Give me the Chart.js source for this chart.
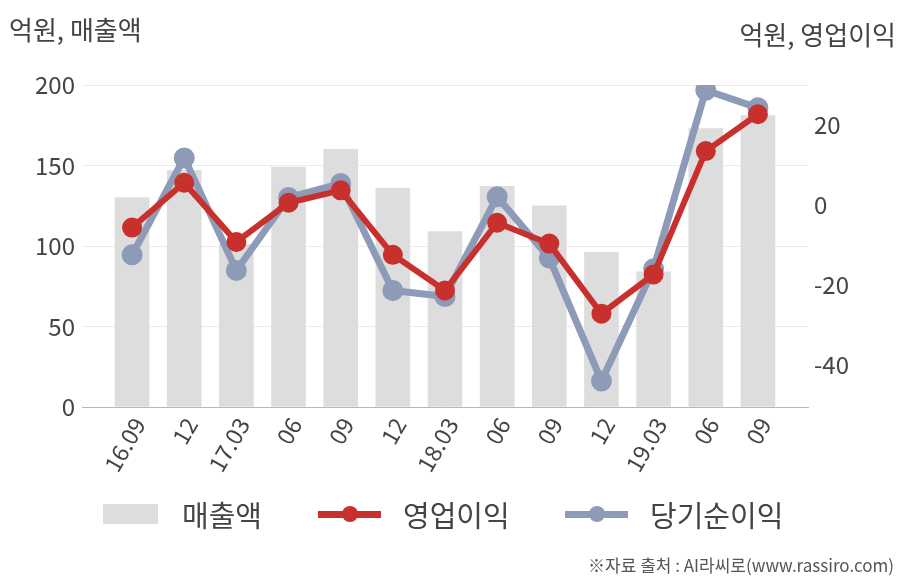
<!DOCTYPE html>
<html>
<head>
<meta charset="utf-8">
<script src="https://cdn.jsdelivr.net/npm/chart.js@4"></script>
<style>
  html, body { margin: 0; padding: 0; background: #fff; }
  #wrap { position: relative; width: 908px; height: 580px; font-family: "Noto Sans CJK KR", sans-serif; color: #444; }
  #chart { position: absolute; left: 0; top: 0; }
  .t { position: absolute; white-space: nowrap; line-height: 1; }
  .lg { position: absolute; top: 496px; height: 36px; display: flex; align-items: center; font-size: 29px; color: #444; }
</style>
</head>
<body>
<div id="wrap">
  <canvas id="chart" width="908" height="580"></canvas>
  <div class="t" style="left:9px; top:16px; font-size:26px;">억원, 매출액</div>
  <div class="t" style="right:12px; top:21px; font-size:26px;">억원, 영업이익</div>
  <div id="legend"></div>
  <div class="t" style="right:14px; top:556px; font-size:17px; color:#555;">※자료 출처 : AI라씨로(www.rassiro.com)</div>
</div>
<script>
const labels = ['16.09', '12', '17.03', '06', '09', '12', '18.03', '06', '09', '12', '19.03', '06', '09']
const sales = [130, 147, 101, 149, 160, 136, 109, 137, 125, 96, 84, 173, 181]
const opProfit = [-5.7, 5.5, -9.3, 0.5, 3.6, -12.5, -21.4, -4.5, -9.7, -27.2, -17.4, 13.4, 22.6]
const netProfit = [-12.5, 11.7, -16.4, 1.8, 5.3, -21.4, -22.9, 2.0, -13.3, -44.0, -16.0, 28.6, 24.2]
const leftTicks = [0, 50, 100, 150, 200]
const rightTicks = [-40, -20, 0, 20]

const GRAY = '#dddddd', RED = '#c7302c', BLUE = '#8e9bb8'
const pts = arr => arr.map((v, i) => ({ x: i, y: v }))

const ctx = document.getElementById('chart').getContext('2d')
const chart = new Chart(ctx, {
  data: {
    datasets: [
      { type: 'bar', label: '매출액', data: pts(sales), backgroundColor: GRAY, barThickness: 34, yAxisID: 'y', order: 3 },
      { type: 'line', label: '당기순이익', data: pts(netProfit), borderColor: BLUE, backgroundColor: BLUE,
        borderWidth: 7, pointRadius: 7, pointHoverRadius: 7, yAxisID: 'y1', order: 2 },
      { type: 'line', label: '영업이익', data: pts(opProfit), borderColor: RED, backgroundColor: RED,
        borderWidth: 6, pointRadius: 7, pointHoverRadius: 7, yAxisID: 'y1', order: 1 }
    ]
  },
  options: {
    responsive: false,
    animation: false,
    layout: { padding: { left: 0, right: 0, top: 85, bottom: 93 } },
    plugins: { legend: { display: false }, tooltip: { enabled: false } },
    scales: {
      x: {
        type: 'linear', min: -0.96, max: 12.96, offset: false,
        afterBuildTicks: s => { s.ticks = labels.map((_, i) => ({ value: i })) },
        afterFit: s => { s.height = 80 },
        grid: { display: false, drawTicks: false },
        border: { display: true, color: '#b8b8b8', width: 1 },
        ticks: {
          callback: v => labels[v], autoSkip: false, maxRotation: 60, minRotation: 60,
          padding: 6, labelOffset: 7, color: '#444', font: { family: 'Noto Sans CJK KR', size: 23 }
        }
      },
      y: {
        position: 'left', min: 0, max: 200,
        afterBuildTicks: s => { s.ticks = leftTicks.map(v => ({ value: v })) },
        afterFit: s => { s.width = 82 },
        grid: { color: c => c.tick.value === 0 ? 'rgba(0,0,0,0)' : '#ececec', drawTicks: false },
        border: { display: false },
        ticks: { padding: 7, color: '#444', font: { family: 'Noto Sans CJK KR', size: 24 } }
      },
      y1: {
        position: 'right', min: -50.5, max: 29.9,
        afterBuildTicks: s => { s.ticks = rightTicks.map(v => ({ value: v })) },
        afterFit: s => { s.width = 100 },
        grid: { drawOnChartArea: false, drawTicks: false },
        border: { display: false },
        ticks: { padding: 6, color: '#444', font: { family: 'Noto Sans CJK KR', size: 24 } }
      }
    }
  }
})

// legend
const legendItems = [
  { text: '매출액', color: GRAY, kind: 'box', left: 103 },
  { text: '영업이익', color: RED, kind: 'line', left: 318 },
  { text: '당기순이익', color: BLUE, kind: 'line', left: 565 }
]
const legendEl = document.getElementById('legend')
legendItems.forEach(it => {
  const d = document.createElement('div')
  d.className = 'lg'
  d.style.left = it.left + 'px'
  const m = document.createElement('span')
  if (it.kind === 'box') {
    m.style.cssText = `display:inline-block;width:55px;height:20px;background:${it.color};margin-right:24px`
  } else {
    m.style.cssText = `display:inline-block;width:63px;height:7px;background:${it.color};margin-right:22px;position:relative`
    const dot = document.createElement('span')
    dot.style.cssText = `position:absolute;left:24px;top:-5px;width:16px;height:16px;border-radius:50%;background:${it.color}`
    m.appendChild(dot)
  }
  d.appendChild(m)
  const s = document.createElement('span')
  s.textContent = it.text
  d.appendChild(s)
  legendEl.appendChild(d)
})
</script>
</body>
</html>
